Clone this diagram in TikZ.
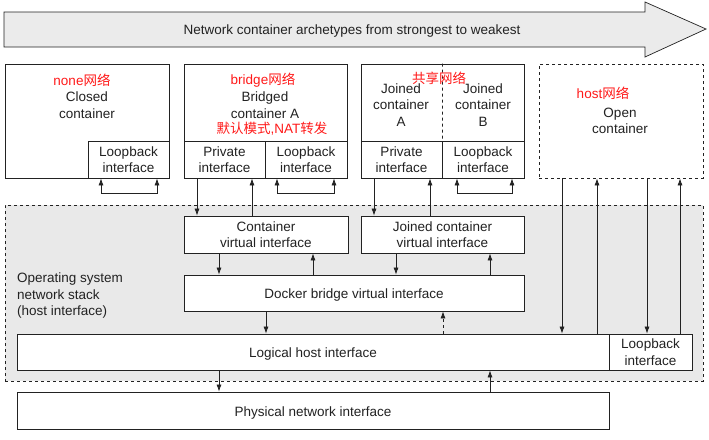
\documentclass[tikz,border=0pt]{standalone}
\usepackage{fontspec}
\setmainfont{Liberation Sans}
\newfontfamily\cjk{Noto Sans CJK SC}
\usetikzlibrary{arrows.meta}
\definecolor{regiongray}{HTML}{E9E9E9}
\definecolor{arrowgray}{HTML}{EBEBEB}
\definecolor{linecol}{HTML}{222222}
\definecolor{redtxt}{HTML}{FF1A1A}
\begin{document}
\begin{tikzpicture}[x=1pt,y=-1pt,
  every node/.style={font=\fontsize{13.5}{16.5}\selectfont, text=linecol},
  box/.style={draw=linecol, fill=white, inner sep=0pt, line width=0.8pt, align=center},
  dbox/.style={box, dashed},
  single/.style={text height=11pt, text depth=0pt},
  lbl/.style={inner sep=0pt, align=center},
  redl/.style={inner sep=0pt, text=redtxt},
  arr/.style={-{Latex[length=7pt,width=5pt]}, line width=0.7pt, draw=linecol},
  darr/.style={arr, dashed},
  loop/.style={{Latex[length=7pt,width=5pt]}-{Latex[length=7pt,width=5pt]}, line width=0.7pt, draw=linecol}]
\useasboundingbox (0,0) rectangle (709,439);

% top arrow
\draw[fill=arrowgray, draw=linecol, line width=0.7pt] (4,12) -- (645,12) -- (645,2) -- (706,29) -- (645,57) -- (645,47) -- (4,47) -- cycle;
\node[lbl, single] (title) at (352,29) {Network container archetypes from strongest to weakest};

% OS region
\node[draw=linecol, dashed, fill=regiongray, line width=0.7pt, inner sep=0pt, minimum width=698, minimum height=176] (os) at (354,293) {};
\node[lbl, align=left, anchor=west] (ostxt) at (17,296) {Operating system\\network stack\\(host interface)};

% Box 1
\node[box, minimum width=164, minimum height=114] (box1) at (87,121) {};
\node[box, minimum width=81, minimum height=37] (lb1) at (128.5,159.5) {Loopback\\interface};
\node[redl] (t1a) at (82,80) {none{\cjk 网络}};
\node[lbl] (t1b) at (87,105) {Closed\\container};

% Box 2
\node[box, minimum width=163, minimum height=114] (box2) at (265.5,121) {};
\node[box, minimum width=81, minimum height=37] (pri2) at (224.5,159.5) {Private\\interface};
\node[box, minimum width=82, minimum height=37] (lb2) at (306,159.5) {Loopback\\interface};
\node[redl] (t2a) at (263,80) {bridge{\cjk 网络}};
\node[lbl] (t2b) at (265,105) {Bridged\\container A};
\node[redl] (t2c) at (272,129) {{\cjk 默认模式}{,}NAT{\cjk 转发}};

% Box 3
\node[box, minimum width=163, minimum height=114] (box3) at (442.5,121) {};
\node[box, minimum width=81, minimum height=37] (pri3) at (401.5,159.5) {Private\\interface};
\node[box, minimum width=82, minimum height=37] (lb3) at (483,159.5) {Loopback\\interface};
\draw[dashed, draw=linecol, line width=0.7pt] (box3.north) -- (pri3.north east);
\node[lbl] (t3a) at (401,105) {Joined\\container\\A};
\node[lbl] (t3b) at (483,105) {Joined\\container\\B};
\node[redl] (t3c) at (439,78) {{\cjk 共享网络}};

% Box 4
\node[dbox, minimum width=164, minimum height=114] (box4) at (621,121) {};
\node[redl] (t4a) at (603,93) {host{\cjk 网络}};
\node[lbl] (t4b) at (620,121) {Open\\container};

% inner interfaces
\node[box, minimum width=164, minimum height=37] (cvi) at (266,234.5) {Container\\virtual interface};
\node[box, minimum width=163, minimum height=37] (jvi) at (442.5,234.5) {Joined container\\virtual interface};
\node[box, single, minimum width=340, minimum height=36] (dbvi) at (354,293) {Docker bridge virtual interface};
\node[box, single, minimum width=592, minimum height=36] (lhi) at (313,352) {Logical host interface};
\node[box, minimum width=83, minimum height=36] (lbh) at (650.5,352) {Loopback\\interface};
\node[box, single, minimum width=592, minimum height=37] (phys) at (313,410.5) {Physical network interface};

% loops
\draw[loop] (lb1.south -| 101,0) -- ++(0,15) -| (lb1.south -| 157,0);
\draw[loop] (lb2.south -| 277,0) -- ++(0,15) -| (lb2.south -| 334,0);
\draw[loop] (lb3.south -| 457,0) -- ++(0,15) -| (lb3.south -| 512,0);

% container to virtual interfaces
\draw[arr] (pri2.south -| 197,0) -- (cvi.north -| 197,0);
\draw[arr] (cvi.north -| 252,0) -- (pri2.south -| 252,0);
\draw[arr] (pri3.south -| 374,0) -- (jvi.north -| 374,0);
\draw[arr] (jvi.north -| 430,0) -- (pri3.south -| 430,0);

% virtual to docker bridge
\draw[arr] (cvi.south -| 219,0) -- (dbvi.north -| 219,0);
\draw[arr] (dbvi.north -| 313,0) -- (cvi.south -| 313,0);
\draw[arr] (jvi.south -| 396,0) -- (dbvi.north -| 396,0);
\draw[arr] (dbvi.north -| 490,0) -- (jvi.south -| 490,0);

% docker bridge to logical
\draw[arr] (dbvi.south -| 266,0) -- (lhi.north -| 266,0);
\draw[darr] (lhi.north -| 443,0) -- (dbvi.south -| 443,0);

% open container
\draw[arr] (box4.south -| 562,0) -- (lhi.north -| 562,0);
\draw[arr] (lhi.north -| 597,0) -- (box4.south -| 597,0);
\draw[arr] (box4.south -| 647,0) -- (lbh.north -| 647,0);
\draw[arr] (lbh.north -| 680,0) -- (box4.south -| 680,0);

% logical to physical
\draw[arr] (lhi.south -| 219,0) -- (phys.north -| 219,0);
\draw[arr] (phys.north -| 490,0) -- (lhi.south -| 490,0);
\end{tikzpicture}
\end{document}
